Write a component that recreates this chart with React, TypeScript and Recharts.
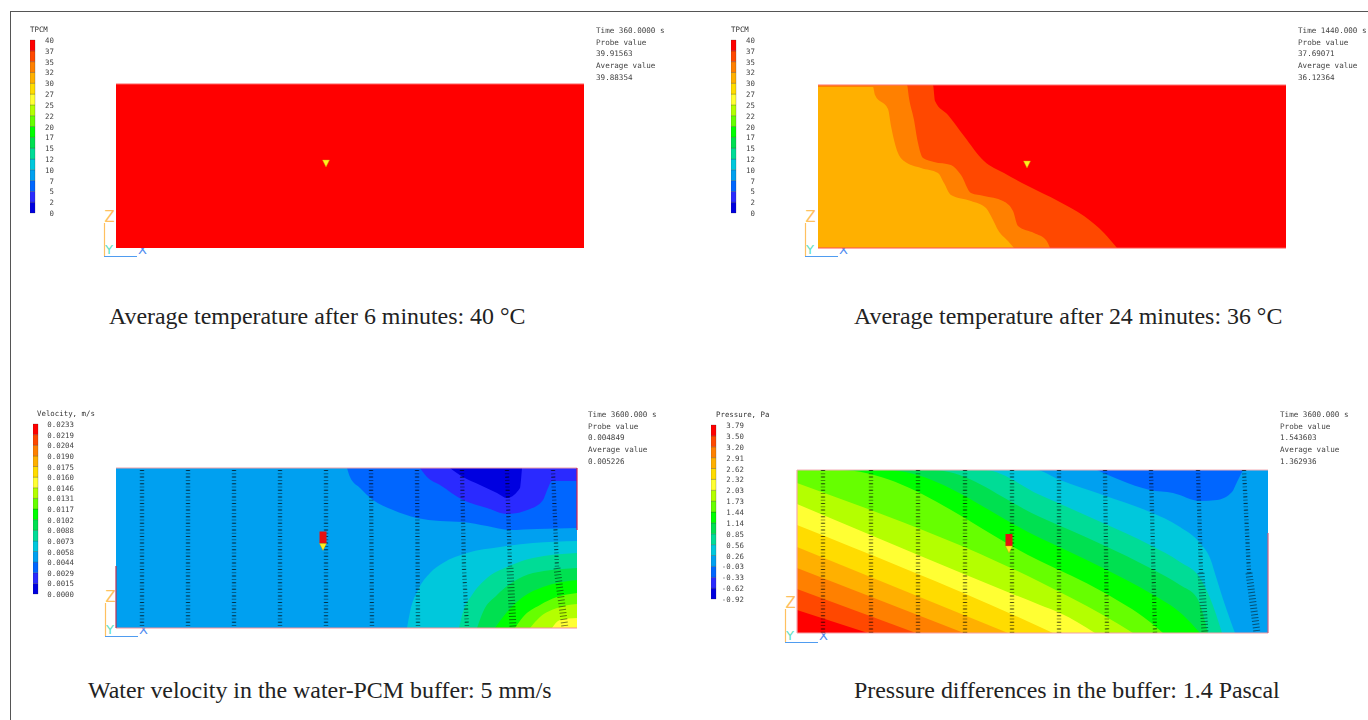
import { Area, Bar, BarChart, ComposedChart, Line, Scatter, XAxis, YAxis } from "recharts";

type Pt = { x: number; z: number };

const SPECTRUM = [
  "#0000e0", "#2a2aff", "#0066ff", "#00a0f0", "#00c8dc", "#00dc96", "#00e050", "#00ff00",
  "#66ff00", "#b4ff00", "#ffff33", "#ffdc00", "#ffb000", "#ff8000", "#ff4800", "#ff0000",
];

const tempTicks = ["0", "2", "5", "7", "10", "12", "15", "17", "20", "22", "25", "27", "30", "32", "35", "37", "40"];
const velocityTicks = ["0.0000", "0.0015", "0.0029", "0.0044", "0.0058", "0.0073", "0.0088", "0.0102", "0.0117", "0.0131", "0.0146", "0.0160", "0.0175", "0.0190", "0.0204", "0.0219", "0.0233"];
const pressureTicks = ["-0.92", "-0.62", "-0.33", "-0.03", "0.26", "0.56", "0.85", "1.14", "1.44", "1.73", "2.03", "2.32", "2.62", "2.91", "3.20", "3.50", "3.79"];

const bar = [{ name: "legend", s0: 1, s1: 1, s2: 1, s3: 1, s4: 1, s5: 1, s6: 1, s7: 1, s8: 1, s9: 1, s10: 1, s11: 1, s12: 1, s13: 1, s14: 1, s15: 1 }];

// temperature after 6 min
const temp6Base: Pt[] = [{ x: 0, z: 164 }, { x: 468, z: 164 }];
// temperature after 24 min
const temp24Base: Pt[] = [{ x: 0, z: 163 }, { x: 468, z: 163 }];
const temp24C: Pt[] = [{ x: 0, z: 163 }, { x: 115, z: 163 }, { x: 117, z: 147 }, { x: 130, z: 133 }, { x: 146, z: 112 }, { x: 166, z: 87 }, { x: 186, z: 75 }, { x: 210, z: 62 }, { x: 240, z: 47 }, { x: 266, z: 32 }, { x: 286, z: 15 }, { x: 299, z: 0 }];
const temp24B: Pt[] = [{ x: 0, z: 163 }, { x: 89, z: 163 }, { x: 91, z: 150 }, { x: 96, z: 128 }, { x: 100, z: 105 }, { x: 105, z: 90 }, { x: 116, z: 86 }, { x: 133, z: 83 }, { x: 143, z: 73 }, { x: 153, z: 55 }, { x: 166, z: 52 }, { x: 185, z: 47 }, { x: 195, z: 37 }, { x: 200, z: 22 }, { x: 216, z: 15 }, { x: 228, z: 8 }, { x: 232, z: 0 }];
const temp24A: Pt[] = [{ x: 0, z: 161 }, { x: 55, z: 161 }, { x: 57, z: 153 }, { x: 70, z: 139 }, { x: 73, z: 122 }, { x: 80, z: 95 }, { x: 86, z: 87 }, { x: 103, z: 80 }, { x: 120, z: 75 }, { x: 126, z: 65 }, { x: 133, z: 53 }, { x: 153, z: 47 }, { x: 168, z: 40 }, { x: 175, z: 28 }, { x: 180, z: 18 }, { x: 190, z: 7 }, { x: 196, z: 0 }];

// velocity
const velBase: Pt[] = [{ x: 0, z: 160 }, { x: 461, z: 160 }];
const velTop1: Pt[] = [{ x: 231, z: 160 }, { x: 234, z: 151 }, { x: 244, z: 140 }, { x: 257, z: 128 }, { x: 277, z: 118 }, { x: 301, z: 110 }, { x: 324, z: 107 }, { x: 347, z: 106 }, { x: 371, z: 102 }, { x: 394, z: 98 }, { x: 421, z: 99 }, { x: 461, z: 100 }];
const velTop2: Pt[] = [{ x: 304, z: 160 }, { x: 311, z: 151 }, { x: 324, z: 143 }, { x: 347, z: 128 }, { x: 371, z: 120 }, { x: 391, z: 114 }, { x: 414, z: 119 }, { x: 427, z: 128 }, { x: 432, z: 140 }, { x: 436, z: 147 }, { x: 461, z: 147 }];
const velTop3: Pt[] = [{ x: 334, z: 160 }, { x: 347, z: 151 }, { x: 364, z: 143 }, { x: 381, z: 135 }, { x: 391, z: 130 }, { x: 404, z: 140 }, { x: 405, z: 148 }, { x: 406, z: 160 }];
const velRise1: Pt[] = [{ x: 291, z: 0 }, { x: 294, z: 16 }, { x: 302, z: 38 }, { x: 314, z: 55 }, { x: 327, z: 65 }, { x: 351, z: 75 }, { x: 384, z: 81 }, { x: 417, z: 85 }, { x: 461, z: 87 }];
const velRise2: Pt[] = [{ x: 343, z: 0 }, { x: 347, z: 16 }, { x: 356, z: 33 }, { x: 371, z: 50 }, { x: 391, z: 61 }, { x: 417, z: 70 }, { x: 461, z: 75 }];
const velRise3: Pt[] = [{ x: 361, z: 0 }, { x: 367, z: 16 }, { x: 381, z: 33 }, { x: 397, z: 46 }, { x: 417, z: 55 }, { x: 461, z: 60 }];
const velRise4: Pt[] = [{ x: 379, z: 0 }, { x: 391, z: 16 }, { x: 407, z: 31 }, { x: 427, z: 41 }, { x: 461, z: 48 }];
const velRise5: Pt[] = [{ x: 399, z: 0 }, { x: 407, z: 11 }, { x: 424, z: 23 }, { x: 441, z: 31 }, { x: 461, z: 35 }];
const velRise6: Pt[] = [{ x: 414, z: 0 }, { x: 424, z: 11 }, { x: 441, z: 20 }, { x: 461, z: 24 }];
const velRise7: Pt[] = [{ x: 436, z: 0 }, { x: 444, z: 8 }, { x: 461, z: 10 }];

const velArrows: Pt[][] = [
  [{ x: 26, z: 158 }, { x: 26, z: 0 }],
  [{ x: 72, z: 158 }, { x: 72, z: 0 }],
  [{ x: 118, z: 158 }, { x: 118, z: 0 }],
  [{ x: 164, z: 158 }, { x: 164, z: 0 }],
  [{ x: 210, z: 158 }, { x: 210, z: 0 }],
  [{ x: 255, z: 158 }, { x: 256, z: 0 }],
  [{ x: 301, z: 158 }, { x: 302, z: 0 }],
  [{ x: 346, z: 158 }, { x: 348, z: 60 }, { x: 351, z: 0 }],
  [{ x: 391, z: 158 }, { x: 394, z: 60 }],
  [{ x: 437, z: 158 }, { x: 441, z: 60 }],
];
const velArrowsWide: Pt[][] = [
  [{ x: 394, z: 60 }, { x: 397, z: 0 }],
  [{ x: 441, z: 60 }, { x: 449, z: 0 }],
];

// pressure
const presBase: Pt[] = [{ x: 0, z: 163 }, { x: 471, z: 163 }];
const presTop: Pt[] = [{ x: 300, z: 163 }, { x: 323, z: 153 }, { x: 353, z: 143 }, { x: 376, z: 140 }, { x: 403, z: 132 }, { x: 420, z: 133 }, { x: 435, z: 141 }, { x: 440, z: 151 }, { x: 446, z: 163 }];
const presCyan: Pt[] = [{ x: 0, z: 163 }, { x: 238, z: 163 }, { x: 263, z: 153 }, { x: 306, z: 138 }, { x: 353, z: 121 }, { x: 383, z: 106 }, { x: 403, z: 90 }, { x: 413, z: 75 }, { x: 420, z: 53 }, { x: 428, z: 28 }, { x: 438, z: 0 }];
const presTeal: Pt[] = [{ x: 0, z: 163 }, { x: 187, z: 163 }, { x: 243, z: 138 }, { x: 306, z: 110 }, { x: 353, z: 88 }, { x: 383, z: 71 }, { x: 403, z: 55 }, { x: 413, z: 35 }, { x: 425, z: 0 }];
const presGreen1: Pt[] = [{ x: 0, z: 163 }, { x: 136, z: 163 }, { x: 243, z: 116 }, { x: 306, z: 88 }, { x: 353, z: 65 }, { x: 383, z: 48 }, { x: 400, z: 35 }, { x: 411, z: 0 }];
const presGreen2: Pt[] = [{ x: 0, z: 163 }, { x: 89, z: 163 }, { x: 243, z: 95 }, { x: 306, z: 65 }, { x: 353, z: 40 }, { x: 386, z: 18 }, { x: 403, z: 0 }];
const presLime1: Pt[] = [{ x: 0, z: 163 }, { x: 42, z: 163 }, { x: 243, z: 72 }, { x: 306, z: 41 }, { x: 353, z: 11 }, { x: 366, z: 0 }];
const presLime2: Pt[] = [{ x: 0, z: 150 }, { x: 243, z: 51 }, { x: 306, z: 18 }, { x: 336, z: 0 }];
const presYellow1: Pt[] = [{ x: 0, z: 129 }, { x: 243, z: 28 }, { x: 263, z: 20 }, { x: 298, z: 0 }];
const presYellow2: Pt[] = [{ x: 0, z: 108 }, { x: 243, z: 6 }, { x: 256, z: 0 }];
const presAmber: Pt[] = [{ x: 0, z: 86 }, { x: 211, z: 0 }];
const presOrange: Pt[] = [{ x: 0, z: 65 }, { x: 167, z: 0 }];
const presDeep: Pt[] = [{ x: 0, z: 44 }, { x: 119, z: 0 }];
const presRed: Pt[] = [{ x: 0, z: 23 }, { x: 71, z: 0 }];

const presArrows: Pt[][] = [
  [{ x: 26, z: 163 }, { x: 26, z: 0 }],
  [{ x: 74, z: 163 }, { x: 74, z: 0 }],
  [{ x: 121, z: 163 }, { x: 121, z: 0 }],
  [{ x: 168, z: 163 }, { x: 168, z: 0 }],
  [{ x: 215, z: 163 }, { x: 215, z: 0 }],
  [{ x: 262, z: 163 }, { x: 262, z: 0 }],
  [{ x: 308, z: 163 }, { x: 310, z: 0 }],
  [{ x: 354, z: 163 }, { x: 358, z: 0 }],
  [{ x: 401, z: 163 }, { x: 404, z: 60 }],
  [{ x: 447, z: 163 }, { x: 452, z: 60 }],
];
const presArrowsWide: Pt[][] = [
  [{ x: 404, z: 60 }, { x: 408, z: 0 }],
  [{ x: 452, z: 60 }, { x: 460, z: 0 }],
];

const probeTemp6: Pt[] = [{ x: 210, z: 85 }];
const probeTemp24: Pt[] = [{ x: 209, z: 84 }];
const probeVel: Pt[] = [{ x: 207, z: 81.5 }];
const probePres: Pt[] = [{ x: 212, z: 84 }];

const MONO = "'DejaVu Sans Mono', monospace";
const PAD = 8;

function ProbeShape(props: any) {
  const { cx, cy, flag } = props;
  return (
    <g>
      {flag ? <rect x={cx - 3.5} y={cy - 15} width={7} height={12} fill="#e81010" /> : null}
      <polygon points={`${cx - 3.5},${cy - 3} ${cx + 3.5},${cy - 3} ${cx},${cy + 4}`} fill="#ffee20" stroke="#c8a000" strokeWidth={0.4} />
    </g>
  );
}

type Band = { data: Pt[]; color: string; hang?: boolean };

function Field({ left, top, w, h, bands, arrows, wide, probe, flag, edges }: {
  left: number; top: number; w: number; h: number; bands: Band[];
  arrows?: Pt[][]; wide?: Pt[][]; probe: Pt[]; flag?: boolean; edges: { data: Pt[]; color: string }[];
}) {
  return (
    <div style={{ position: "absolute", left: left - PAD, top: top - PAD }}>
      <ComposedChart width={w + PAD * 2} height={h + PAD * 2} margin={{ top: PAD, right: PAD, bottom: PAD, left: PAD }}>
        <XAxis type="number" dataKey="x" domain={[0, w]} hide />
        <YAxis type="number" dataKey="z" domain={[0, h]} hide />
        {bands.map((b, i) => (
          <Area
            key={i}
            data={b.data}
            dataKey="z"
            type="monotone"
            baseValue={b.hang ? h : 0}
            stroke="none"
            fill={b.color}
            fillOpacity={1}
            dot={false}
            activeDot={false}
            isAnimationActive={false}
          />
        ))}
        {edges.map((e, i) => (
          <Line key={`e${i}`} data={e.data} dataKey="z" stroke={e.color} strokeWidth={1.2} dot={false} activeDot={false} isAnimationActive={false} />
        ))}
        {(arrows ?? []).map((a, i) => (
          <Line key={`a${i}`} data={a} dataKey="z" stroke="#000" strokeOpacity={0.42} strokeWidth={4.5} strokeDasharray="1 2.3" dot={false} activeDot={false} isAnimationActive={false} />
        ))}
        {(arrows ?? []).map((a, i) => (
          <Line key={`b${i}`} data={a} dataKey="z" stroke="#000" strokeOpacity={0.45} strokeWidth={3.5} strokeDasharray="1 5.6" dot={false} activeDot={false} isAnimationActive={false} />
        ))}
        {(wide ?? []).map((a, i) => (
          <Line key={`w${i}`} data={a} dataKey="z" stroke="#000" strokeOpacity={0.5} strokeWidth={7} strokeDasharray="1 2.2" dot={false} activeDot={false} isAnimationActive={false} />
        ))}
        <Scatter data={probe} dataKey="z" isAnimationActive={false} shape={(p: any) => <ProbeShape {...p} flag={flag} />} />
      </ComposedChart>
    </div>
  );
}

function ColorScale({ left, top, height, labels, labelRight, title, titleLeft }: {
  left: number; top: number; height: number; labels: string[]; labelRight: number; title: string; titleLeft: number;
}) {
  const chartW = labelRight - left + 4;
  return (
    <>
      <div style={{ position: "absolute", left: titleLeft, top: top - 15, font: `7.4px ${MONO}`, lineHeight: "10px", color: "#333", whiteSpace: "pre", filter: "blur(0.4px)" }}>{title}</div>
      <div style={{ position: "absolute", left, top: top - 6, filter: "blur(0.4px)" }}>
        <BarChart width={chartW} height={height + 12} data={bar} margin={{ top: 6, right: 0, bottom: 6, left: 0 }} barCategoryGap={0}>
          <XAxis type="category" dataKey="name" hide />
          <YAxis
            type="number"
            orientation="right"
            width={chartW - 5}
            domain={[0, 16]}
            ticks={[0, 1, 2, 3, 4, 5, 6, 7, 8, 9, 10, 11, 12, 13, 14, 15, 16]}
            interval={0}
            axisLine={false}
            tickLine={false}
            tick={(p: any) => (
              <text x={labelRight - left} y={p.y + 3} textAnchor="end" fontSize={7.4} fontFamily={MONO} fill="#444">
                {labels[p.payload.value]}
              </text>
            )}
          />
          {SPECTRUM.map((c, i) => (
            <Bar key={c} dataKey={`s${i}`} stackId="scale" fill={c} stroke="#222" strokeOpacity={0.45} strokeWidth={0.5} isAnimationActive={false} />
          ))}
        </BarChart>
      </div>
    </>
  );
}

function Readout({ left, top, lines }: { left: number; top: number; lines: string[] }) {
  return (
    <div style={{ position: "absolute", left, top, font: `7.6px ${MONO}`, lineHeight: "11.7px", color: "#444", whiteSpace: "pre", filter: "blur(0.4px)" }}>
      {lines.map((l) => <div key={l}>{l}</div>)}
    </div>
  );
}

function Triad({ left, top }: { left: number; top: number }) {
  return (
    <svg style={{ position: "absolute", left: left - 4, top: top - 14 }} width={50} height={50}>
      <line x1={4.5} y1={14} x2={4.5} y2={47} stroke="#ffc060" strokeWidth={1.2} />
      <line x1={4} y1={47.5} x2={37} y2={47.5} stroke="#4f9cf0" strokeWidth={1.2} />
      <text x={4.5} y={13} fontSize={15} fontFamily="'DejaVu Sans', sans-serif" fill="#ffc060">Z</text>
      <text x={5} y={45} fontSize={13} fontFamily="'DejaVu Sans', sans-serif" fill="#60e0c0">Y</text>
      <text x={38} y={45} fontSize={13} fontFamily="'DejaVu Sans', sans-serif" fill="#4f8cf0">X</text>
    </svg>
  );
}

function Caption({ left, top, text }: { left: number; top: number; text: string }) {
  return <div style={{ position: "absolute", left, top, font: "23.9px 'Liberation Serif', serif", lineHeight: "26px", color: "#222", whiteSpace: "pre" }}>{text}</div>;
}

const temp6Bands: Band[] = [{ data: temp6Base, color: "#ff0000" }];
const temp24Bands: Band[] = [
  { data: temp24Base, color: "#ff0000" },
  { data: temp24C, color: "#ff4800" },
  { data: temp24B, color: "#ff8000" },
  { data: temp24A, color: "#ffb000" },
];
const velBands: Band[] = [
  { data: velBase, color: "#00a0f0" },
  { data: velTop1, color: "#0066ff", hang: true },
  { data: velTop2, color: "#2a2aff", hang: true },
  { data: velTop3, color: "#0000e0", hang: true },
  { data: velRise1, color: "#00c8dc" },
  { data: velRise2, color: "#00dc96" },
  { data: velRise3, color: "#00e050" },
  { data: velRise4, color: "#00ff00" },
  { data: velRise5, color: "#66ff00" },
  { data: velRise6, color: "#b4ff00" },
  { data: velRise7, color: "#ffff33" },
];
const presBands: Band[] = [
  { data: presBase, color: "#00a0f0" },
  { data: presTop, color: "#0066ff", hang: true },
  { data: presCyan, color: "#00c8dc" },
  { data: presTeal, color: "#00dc96" },
  { data: presGreen1, color: "#00e050" },
  { data: presGreen2, color: "#00ff00" },
  { data: presLime1, color: "#66ff00" },
  { data: presLime2, color: "#b4ff00" },
  { data: presYellow1, color: "#ffff33" },
  { data: presYellow2, color: "#ffdc00" },
  { data: presAmber, color: "#ffb000" },
  { data: presOrange, color: "#ff8000" },
  { data: presDeep, color: "#ff4800" },
  { data: presRed, color: "#ff0000" },
];

export default function App() {
  return (
    <div style={{ position: "absolute", left: 0, top: 0, width: 1368, height: 720, background: "#fff", overflow: "hidden" }}>
      <div style={{ position: "absolute", left: 10, top: 11, width: 1358, height: 1, background: "#555" }} />
      <div style={{ position: "absolute", left: 10, top: 11, width: 1, height: 709, background: "#555" }} />

      <ColorScale left={30} top={40} height={173} labels={tempTicks} labelRight={54} title="TPCM" titleLeft={30} />
      <Readout left={596} top={25} lines={["Time 360.0000 s", "Probe value", "39.91563", "Average value", "39.88354"]} />
      <Triad left={104} top={223} />
      <Field left={116} top={84} w={468} h={164} bands={temp6Bands} probe={probeTemp6}
        edges={[{ data: [{ x: 0, z: 164 }, { x: 468, z: 164 }], color: "#ff6060" }]} />
      <Caption left={109} top={303} text="Average temperature after 6 minutes: 40 °C" />

      <ColorScale left={731} top={40} height={173} labels={tempTicks} labelRight={755} title="TPCM" titleLeft={731} />
      <Readout left={1298} top={25} lines={["Time 1440.000 s", "Probe value", "37.69071", "Average value", "36.12364"]} />
      <Triad left={805} top={223} />
      <Field left={818} top={85} w={468} h={163} bands={temp24Bands} probe={probeTemp24}
        edges={[{ data: [{ x: 0, z: 163 }, { x: 468, z: 163 }], color: "#ff7070" }, { data: [{ x: 0, z: 0 }, { x: 468, z: 0 }], color: "#ff5050" }]} />
      <Caption left={854} top={303} text="Average temperature after 24 minutes: 36 °C" />

      <ColorScale left={33} top={424} height={170} labels={velocityTicks} labelRight={74} title="Velocity, m/s" titleLeft={37} />
      <Readout left={588} top={409} lines={["Time 3600.000 s", "Probe value", "0.004849", "Average value", "0.005226"]} />
      <Triad left={105} top={603} />
      <Field left={116} top={468} w={461} h={160} bands={velBands} arrows={velArrows} wide={velArrowsWide} probe={probeVel} flag
        edges={[
          { data: [{ x: 0, z: 160 }, { x: 461, z: 160 }], color: "#f0a0a8" },
          { data: [{ x: 0, z: 0 }, { x: 461, z: 0 }], color: "#f89098" },
          { data: [{ x: 0, z: 62 }, { x: 0, z: 0 }], color: "#c03050" },
          { data: [{ x: 461, z: 160 }, { x: 461, z: 98 }], color: "#d02050" },
        ]} />
      <Caption left={88} top={677} text="Water velocity in the water-PCM buffer: 5 mm/s" />

      <ColorScale left={711} top={425} height={174} labels={pressureTicks} labelRight={744} title="Pressure, Pa" titleLeft={716} />
      <Readout left={1280} top={409} lines={["Time 3600.000 s", "Probe value", "1.543603", "Average value", "1.362936"]} />
      <Triad left={785} top={609} />
      <Field left={797} top={470} w={471} h={163} bands={presBands} arrows={presArrows} wide={presArrowsWide} probe={probePres} flag
        edges={[
          { data: [{ x: 0, z: 163 }, { x: 471, z: 163 }], color: "#f4b0b8" },
          { data: [{ x: 0, z: 0 }, { x: 471, z: 0 }], color: "#f4a0a8" },
          { data: [{ x: 0, z: 163 }, { x: 0, z: 0 }], color: "#f4a8b0" },
          { data: [{ x: 471, z: 100 }, { x: 471, z: 0 }], color: "#d06080" },
        ]} />
      <Caption left={854} top={677} text="Pressure differences in the buffer: 1.4 Pascal" />
    </div>
  );
}
